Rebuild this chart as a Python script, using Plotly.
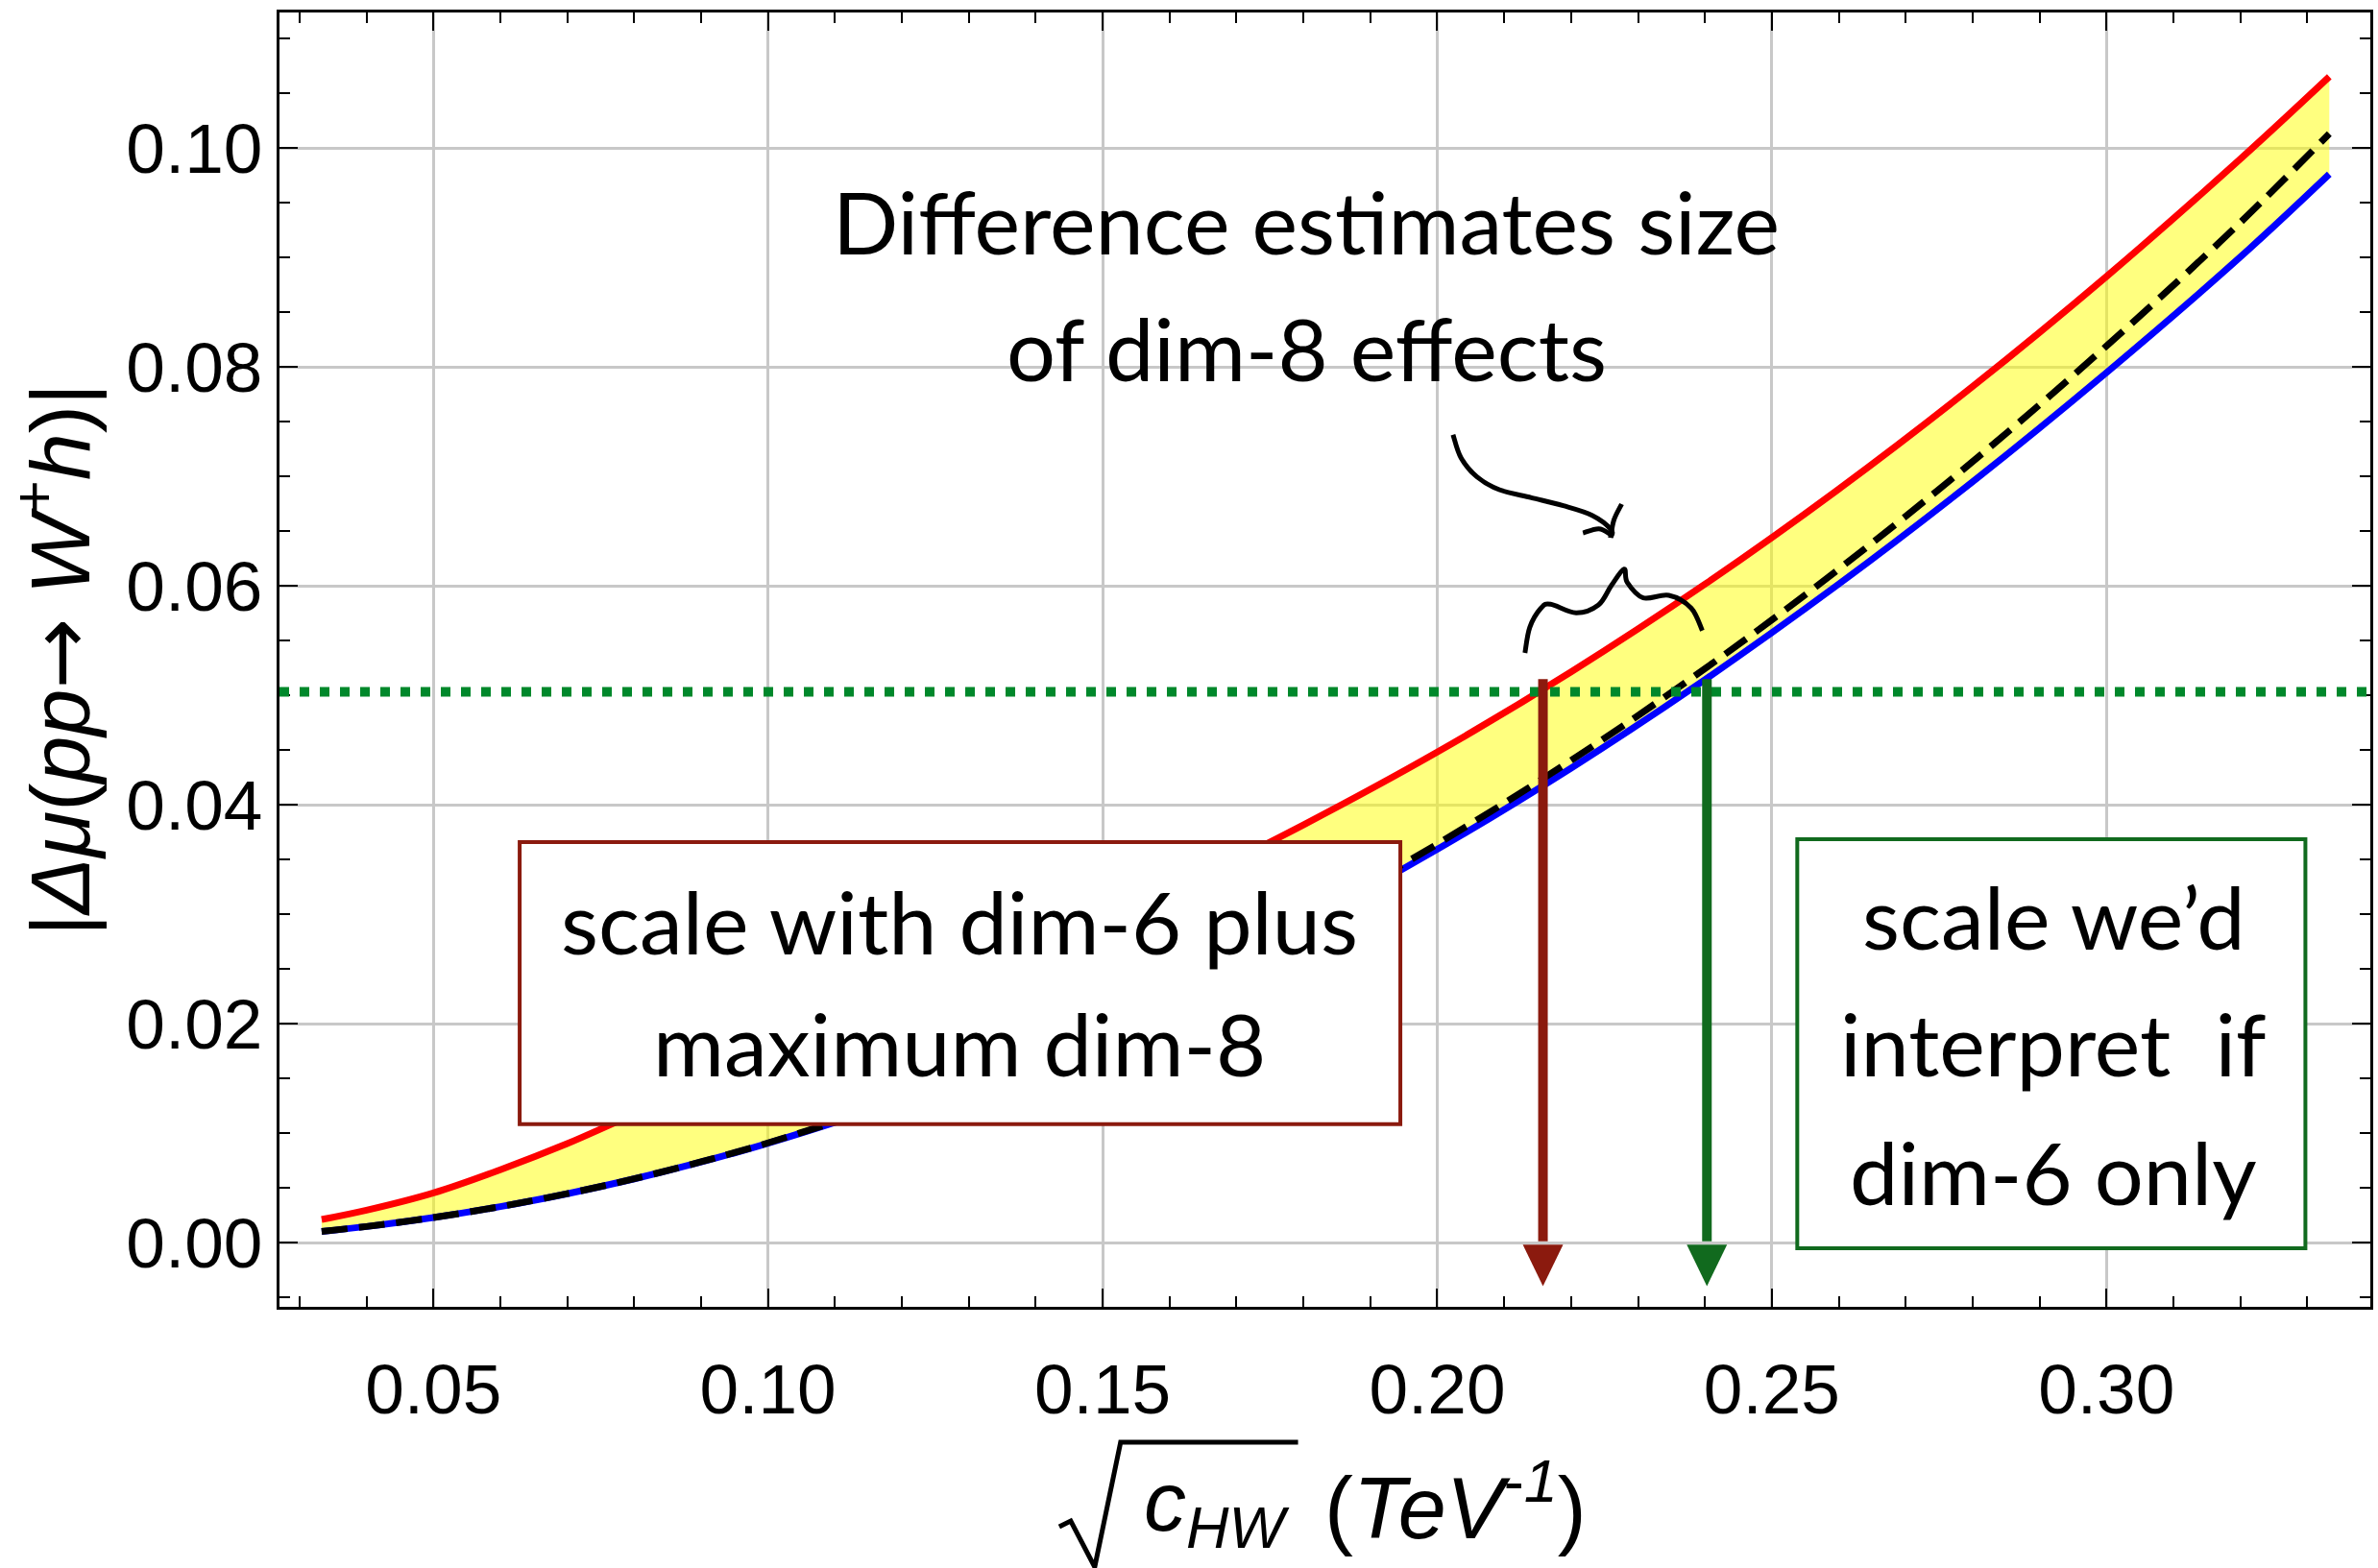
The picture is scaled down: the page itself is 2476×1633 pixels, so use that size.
import plotly.graph_objects as go

# ---------------- data ----------------
sqrt_chw = [0.0333, 0.04, 0.05, 0.06, 0.07, 0.08, 0.09, 0.10, 0.12, 0.14,
            0.16, 0.18, 0.20, 0.22, 0.24, 0.26, 0.28, 0.30, 0.32, 0.3333]
dmu_upper_red = [0.00210, 0.00295, 0.00453, 0.00665, 0.00903, 0.01170, 0.01410,
                 0.01630, 0.02090, 0.02610, 0.03200, 0.03815, 0.04480, 0.05213,
                 0.06014, 0.06883, 0.07820, 0.08825, 0.09898, 0.10650]
dmu_dim6_dashed = [0.00101, 0.00146, 0.00228, 0.00328, 0.00446, 0.00582, 0.00737,
                   0.00910, 0.01310, 0.01784, 0.02330, 0.02948, 0.03640, 0.04404,
                   0.05242, 0.06152, 0.07134, 0.08190, 0.09318, 0.10130]
dmu_lower_blue = [0.00101, 0.00146, 0.00228, 0.00328, 0.00445, 0.00581, 0.00735,
                  0.00907, 0.01304, 0.01772, 0.02310, 0.02917, 0.03592, 0.04334,
                  0.05142, 0.06015, 0.06950, 0.07947, 0.09003, 0.09760]
target_dmu = 0.0503
scale_dim6_plus_dim8 = 0.2158
scale_dim6_only = 0.2403

x_range = [0.0270, 0.33943]
y_range = [-0.005877, 0.11237]

hand_font = "Lato"
hand_size = 90

fig = go.Figure()

# yellow band between blue and red
fig.add_trace(go.Scatter(x=sqrt_chw, y=dmu_lower_blue, mode="lines",
                         line=dict(width=0, shape="spline"), hoverinfo="skip",
                         showlegend=False))
fig.add_trace(go.Scatter(x=sqrt_chw, y=dmu_upper_red, mode="lines",
                         line=dict(width=0, shape="spline"), fill="tonexty",
                         fillcolor="rgba(255,255,0,0.5)", hoverinfo="skip",
                         showlegend=False))
# curves
fig.add_trace(go.Scatter(x=sqrt_chw, y=dmu_lower_blue, mode="lines",
                         line=dict(color="#0000ff", width=7, shape="spline"),
                         showlegend=False))
fig.add_trace(go.Scatter(x=sqrt_chw, y=dmu_dim6_dashed, mode="lines",
                         line=dict(color="#000000", width=7, shape="spline",
                                   dash="27px,12px"),
                         showlegend=False))
fig.add_trace(go.Scatter(x=sqrt_chw, y=dmu_upper_red, mode="lines",
                         line=dict(color="#ff0000", width=7, shape="spline"),
                         showlegend=False))

shapes = []
# green dotted target line
shapes.append(dict(type="line", xref="paper", yref="y", x0=0, x1=1,
                   y0=target_dmu, y1=target_dmu, layer="above",
                   line=dict(color="#00882b", width=10, dash="10px,11px")))

# vertical arrows
def arrow(x, color):
    hw = 0.00301
    shapes.append(dict(type="line", xref="x", yref="y", x0=x, x1=x,
                       y0=0.05146, y1=0.0001, layer="above",
                       line=dict(color=color, width=10)))
    shapes.append(dict(type="path", xref="x", yref="y", layer="above",
                       path=f"M {x-hw},-0.0002 L {x+hw},-0.0002 L {x},-0.0040 Z",
                       fillcolor=color, line=dict(width=0)))

arrow(scale_dim6_plus_dim8, "#8b1a0e")
arrow(scale_dim6_only, "#116a1e")

# boxes
shapes.append(dict(type="rect", xref="x", yref="y", x0=0.06289, x1=0.19449,
                   y0=0.01082, y1=0.03658, fillcolor="white", layer="above",
                   line=dict(color="#8b1a0e", width=4)))
shapes.append(dict(type="rect", xref="x", yref="y", x0=0.25380, x1=0.32973,
                   y0=-0.00053, y1=0.03684, fillcolor="white", layer="above",
                   line=dict(color="#116a1e", width=4)))


def smooth_path(pts):
    d = f"M {pts[0][0]},{pts[0][1]}"
    n = len(pts)
    for i in range(n - 1):
        p0 = pts[i - 1] if i > 0 else pts[i]
        p1 = pts[i]
        p2 = pts[i + 1]
        p3 = pts[i + 2] if i + 2 < n else pts[i + 1]
        c1 = (p1[0] + (p2[0] - p0[0]) / 6, p1[1] + (p2[1] - p0[1]) / 6)
        c2 = (p2[0] - (p3[0] - p1[0]) / 6, p2[1] - (p3[1] - p1[1]) / 6)
        d += f" C {c1[0]:.6f},{c1[1]:.6f} {c2[0]:.6f},{c2[1]:.6f} {p2[0]:.6f},{p2[1]:.6f}"
    return d

# hand-drawn brace
brace = [(0.21311, 0.05386), (0.21383, 0.05620), (0.21551, 0.05796),
         (0.21694, 0.05831), (0.22075, 0.05752), (0.22410, 0.05825),
         (0.22600, 0.06000), (0.22791, 0.06152), (0.22840, 0.06029),
         (0.23077, 0.05889), (0.23460, 0.05912), (0.23794, 0.05796),
         (0.23961, 0.05590)]
shapes.append(dict(type="path", xref="x", yref="y", layer="above",
                   path=smooth_path(brace), line=dict(color="black", width=5)))
# hand-drawn curly arrow
curl = [(0.20236, 0.07380), (0.20355, 0.07169), (0.20594, 0.06994),
        (0.20928, 0.06877), (0.21407, 0.06804), (0.21884, 0.06731),
        (0.22314, 0.06643), (0.22601, 0.06511), (0.22590, 0.06439)]
shapes.append(dict(type="path", xref="x", yref="y", layer="above",
                   path=smooth_path(curl), line=dict(color="black", width=5)))
barb_r = [(0.22590, 0.06439), (0.22640, 0.06600), (0.22756, 0.06746)]
barb_l = [(0.22590, 0.06470), (0.22414, 0.06520), (0.22178, 0.06482)]
for b in (barb_r, barb_l):
    shapes.append(dict(type="path", xref="x", yref="y", layer="above",
                       path=smooth_path(b), line=dict(color="black", width=5)))

# radical sign of the x-axis title (paper coordinates)
shapes.append(dict(type="path", xref="paper", yref="paper", layer="above",
                   path="M 0.37294,-0.16988 L 0.37844,-0.16543 L 0.38991,-0.20104 "
                        "L 0.40229,-0.10460 L 0.48716,-0.10460",
                   line=dict(color="black", width=5)))

annotations = []
def hand(text, x, y):
    annotations.append(dict(text=text, x=x, y=y, xref="x", yref="y",
                            showarrow=False, xanchor="center", yanchor="middle",
                            font=dict(family=hand_font, size=hand_size, color="black")))

hand("Difference estimates size", 0.18044, 0.09333)
hand("of dim-8 effects", 0.18044, 0.08175)
hand("scale with dim-6 plus", 0.12865, 0.02939)
hand("maximum dim-8", 0.12865, 0.01825)
hand("scale we\u2019d", 0.29212, 0.02982)
hand("interpret  if", 0.29212, 0.01825)
hand("dim-6 only", 0.29212, 0.00649)

# x-axis title (placed under the radical sign)
annotations.append(dict(text="<i>c</i><sub><i>HW</i></sub>", xref="paper", yref="paper",
                        x=0.41239, y=-0.1122, xanchor="left", yanchor="top",
                        showarrow=False,
                        font=dict(family="Liberation Sans", size=88, color="black")))
annotations.append(dict(text="(<i>TeV</i><sup>-<i>1</i></sup>)", xref="paper", yref="paper",
                        x=0.49908, y=-0.1940, xanchor="left", yanchor="bottom",
                        showarrow=False,
                        font=dict(family="Liberation Sans", size=90, color="black")))

axis_common = dict(showline=True, linecolor="black", linewidth=3, mirror="allticks",
                   ticks="inside", ticklen=19, tickwidth=2, tickcolor="black",
                   showgrid=True, gridcolor="#c8c8c8", gridwidth=2.5,
                   zeroline=False, tickformat=".2f",
                   tickfont=dict(family="Liberation Sans", size=73, color="black"))

y_title = ("|<i>\u0394\u03bc</i>(<i>pp</i>"
           "<span style=\"font-family:'DejaVu Sans'\">\u2192</span> "
           "<i>W</i><sup>+</sup><i>h</i>)|")

fig.update_layout(
    width=2476, height=1633,
    margin=dict(l=291, r=5, t=13, b=272, pad=0),
    paper_bgcolor="white", plot_bgcolor="white",
    shapes=shapes, annotations=annotations,
    xaxis=dict(range=x_range, dtick=0.05, tick0=0,
               minor=dict(dtick=0.01, ticklen=11, tickwidth=2, tickcolor="black",
                          ticks="inside", showgrid=False),
               ticklabelstandoff=20,
               **axis_common),
    yaxis=dict(range=y_range, dtick=0.02, tick0=0,
               minor=dict(dtick=0.005, ticklen=11, tickwidth=2, tickcolor="black",
                          ticks="inside", showgrid=False),
               ticklabelstandoff=0,
               title=dict(text=y_title,
                          font=dict(family="Liberation Sans", size=88, color="black"),
                          standoff=31),
               **axis_common),
)

fig.write_html("out.html")
